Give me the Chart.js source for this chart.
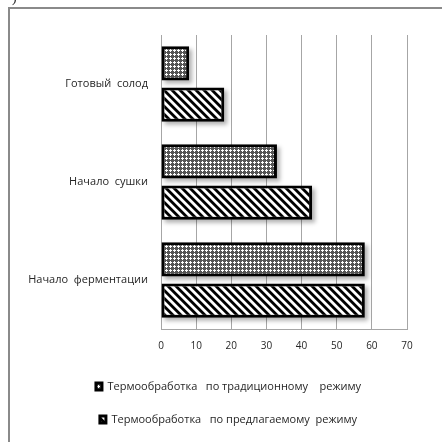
<!DOCTYPE html>
<html>
<head>
<meta charset="utf-8">
<script src="https://cdn.jsdelivr.net/npm/chart.js@4"></script>
<style>
  html, body { margin: 0; padding: 0; background: #fff; }
  #wrap { width: 442px; height: 442px; }
</style>
</head>
<body>
<div id="wrap"><canvas id="c" width="442" height="442"></canvas></div>
<script>
// Stages of malt production
const categories = ['Готовый  солод', 'Начало  сушки', 'Начало  ферментации'];
// Series
const seriesNames = [
  'Термообработка   по традиционному    режиму',
  'Термообработка   по предлагаемому  режиму'
];
const traditional = [8, 33, 58];
const proposed = [18, 43, 58];
const xTicks = [0, 10, 20, 30, 40, 50, 60, 70];

const FONT = 'Open Sans';
const TEXT = '#262626';
const FS = 11;

// Fill patterns for the bars
function dottedPattern() {
  const t = document.createElement('canvas');
  t.width = 4; t.height = 4;
  const g = t.getContext('2d');
  g.fillStyle = '#555555';
  g.fillRect(0, 0, 4, 4);
  g.fillStyle = '#ffffff';
  [[2,1],[1,2],[2,2],[3,2],[2,3]].forEach(([x, y]) => g.fillRect(x, y, 1, 1));
  return g.createPattern(t, 'repeat');
}
// diagonal "\" stripes, anti-aliased by sub-sampling so the tile wraps cleanly
function hatchPattern() {
  const s = 8, w = 4, n = 4;
  const t = document.createElement('canvas');
  t.width = s; t.height = s;
  const g = t.getContext('2d');
  const img = g.createImageData(s, s);
  for (let y = 0; y < s; y++) {
    for (let x = 0; x < s; x++) {
      let cov = 0;
      for (let sy = 0; sy < n; sy++) {
        for (let sx = 0; sx < n; sx++) {
          const px = x + (sx + 0.5) / n, py = y + (sy + 0.5) / n;
          const d = ((px - py) % s + s) % s;
          if (d < w) cov++;
        }
      }
      const v = Math.round(255 * (1 - cov / (n * n)));
      const i = (y * s + x) * 4;
      img.data[i] = img.data[i + 1] = img.data[i + 2] = v;
      img.data[i + 3] = 255;
    }
  }
  g.putImageData(img, 0, 0);
  return g.createPattern(t, 'repeat');
}

const ctx = document.getElementById('c').getContext('2d');

// Page frame and background
const framePlugin = {
  id: 'frame',
  beforeDraw(chart) {
    const c = chart.ctx;
    c.save();
    c.fillStyle = '#ffffff';
    c.fillRect(0, 0, chart.width, chart.height);
    c.fillStyle = '#8a8a8a';
    c.fillRect(8, 7, chart.width - 8, 2);
    c.fillRect(8, 7, 2, chart.height - 7);
    c.fillStyle = '#222';
    c.font = '14px "Liberation Serif"';
    c.textBaseline = 'alphabetic';
    c.fillText(')', 12, 2);
    c.restore();
  },
  // centre the legend block under the plot
  afterLayout(chart) {
    const lg = chart.legend;
    if (lg) { lg.left += 15; lg.right += 15; }
  }
};

// Soft drop shadow under each bar
const shadowPlugin = {
  id: 'barShadow',
  beforeDatasetsDraw(chart) {
    const c = chart.ctx;
    c.save();
    c.fillStyle = 'rgba(0,0,0,0.3)';
    c.filter = 'blur(2px)';
    chart.data.datasets.forEach((ds, i) => {
      chart.getDatasetMeta(i).data.forEach(el => {
        const p = el.getProps(['x', 'y', 'base', 'height'], true);
        const l = Math.min(p.base, p.x), w = Math.abs(p.x - p.base);
        c.fillRect(l + 3, p.y - p.height / 2 + 3, w, p.height);
      });
    });
    c.restore();
  }
};

new Chart(ctx, {
  type: 'bar',
  data: {
    labels: categories,
    datasets: [
      {
        label: seriesNames[0],
        data: traditional,
        backgroundColor: dottedPattern(),
        borderColor: '#000',
        borderWidth: 3,
        borderSkipped: false
      },
      {
        label: seriesNames[1],
        data: proposed,
        backgroundColor: hatchPattern(),
        borderColor: '#000',
        borderWidth: 3,
        borderSkipped: false
      }
    ]
  },
  options: {
    indexAxis: 'y',
    responsive: false,
    animation: false,
    devicePixelRatio: 1,
    categoryPercentage: 0.84,
    barPercentage: 0.83,
    layout: { padding: { top: 35, right: 35, left: 20, bottom: 7 } },
    scales: {
      x: {
        min: 0,
        max: 70,
        afterBuildTicks(scale) { scale.ticks = xTicks.map(v => ({ value: v })); },
        afterFit(scale) { scale.height = 30; },
        grid: { color: '#a6a6a6', lineWidth: 1, drawTicks: false },
        border: { color: '#a6a6a6', width: 1 },
        ticks: { color: TEXT, font: { family: FONT, size: 10 }, padding: 11 }
      },
      y: {
        afterFit(scale) { scale.width = 161 - 20; },
        grid: { display: false, drawTicks: false },
        border: { color: '#a6a6a6', width: 1 },
        ticks: { color: TEXT, font: { family: FONT, size: FS }, padding: 13 }
      }
    },
    plugins: {
      legend: {
        position: 'bottom',
        labels: {
          color: TEXT,
          font: { family: FONT, size: FS },
          boxWidth: 6,
          boxHeight: 7,
          padding: 33 - FS
        }
      },
      tooltip: { enabled: false }
    }
  },
  plugins: [framePlugin, shadowPlugin]
});
</script>
</body>
</html>
